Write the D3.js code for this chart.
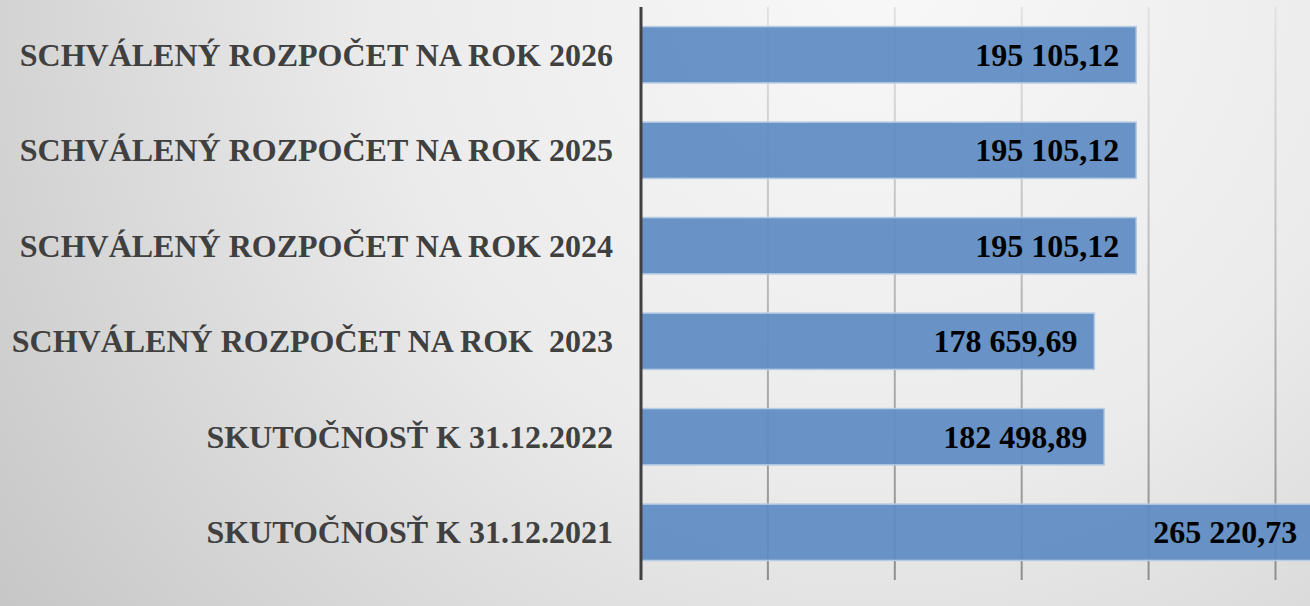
<!DOCTYPE html>
<html><head><meta charset="utf-8">
<script src="https://cdn.jsdelivr.net/npm/d3@7"></script>
<style>html,body{margin:0;padding:0;overflow:hidden;background:#ddd}</style>
</head><body>
<svg id="chart" width="1310" height="606"></svg>
<script>
const categories = [
  "SCHVÁLENÝ ROZPOČET NA ROK 2026",
  "SCHVÁLENÝ ROZPOČET NA ROK 2025",
  "SCHVÁLENÝ ROZPOČET NA ROK 2024",
  "SCHVÁLENÝ ROZPOČET NA ROK  2023",
  "SKUTOČNOSŤ K 31.12.2022",
  "SKUTOČNOSŤ K 31.12.2021"
];
const values = [195105.12, 195105.12, 195105.12, 178659.69, 182498.89, 265220.73];
const valueLabels = ["195 105,12", "195 105,12", "195 105,12", "178 659,69", "182 498,89", "265 220,73"];
const gridTicks = [50000, 100000, 150000, 200000, 250000];

const svg = d3.select("#chart");
const W = 1310, H = 606;
const defs = svg.append("defs");
const bg = defs.append("radialGradient").attr("id","bg").attr("gradientUnits","userSpaceOnUse")
  .attr("cx",880).attr("cy",-20).attr("r",1120);
bg.append("stop").attr("offset","0").attr("stop-color","#f8f8f8");
bg.append("stop").attr("offset","0.45").attr("stop-color","#ebebeb");
bg.append("stop").attr("offset","1").attr("stop-color","#c4c4c4");
const gg = defs.append("linearGradient").attr("id","grid").attr("gradientUnits","userSpaceOnUse")
  .attr("x1",0).attr("y1",7).attr("x2",0).attr("y2",580);
gg.append("stop").attr("offset","0").attr("stop-color","#e2e2e2");
gg.append("stop").attr("offset","1").attr("stop-color","#8e8e8e");

svg.append("rect").attr("width",W).attr("height",H).attr("fill","url(#bg)");

const x = d3.scaleLinear().domain([0, 300000]).range([641, 641 + 126.9*6]);
const y = d3.scaleBand().domain(categories).range([7, 580]).paddingInner(0.41).paddingOuter(0.205);

svg.append("g").selectAll("line").data(gridTicks).join("line")
  .attr("x1", d => x(d)).attr("x2", d => x(d))
  .attr("y1", 7).attr("y2", 580)
  .attr("stroke","url(#grid)").attr("stroke-width",2);

svg.append("g").selectAll("rect").data(values).join("rect")
  .attr("x", x(0)).attr("y", (d,i) => y(categories[i]))
  .attr("width", d => x(d) - x(0)).attr("height", y.bandwidth())
  .attr("fill","#5f8cc3").attr("fill-opacity",0.93)
  .attr("stroke","#b6cbe4").attr("stroke-width",1.5);

svg.append("g").selectAll("text").data(valueLabels).join("text")
  .attr("x", (d,i) => x(values[i]) - 17)
  .attr("y", (d,i) => y(categories[i]) + y.bandwidth()/2)
  .attr("dy","0.35em").attr("text-anchor","end")
  .attr("font-family","'Liberation Serif','Times New Roman',serif")
  .attr("font-weight","bold").attr("font-size",32).attr("fill","#000")
  .text(d => d);

const yAxis = svg.append("g").attr("transform", `translate(${x(0)},0)`)
  .call(d3.axisLeft(y).tickSize(0).tickPadding(28));
yAxis.select(".domain").remove();
yAxis.selectAll("text")
  .attr("font-family","'Liberation Serif','Times New Roman',serif")
  .attr("font-weight","bold").attr("font-size",32).attr("fill","#404040")
  .style("white-space","pre").attr("dy","0.35em");

svg.append("line").attr("x1",x(0)).attr("x2",x(0)).attr("y1",7).attr("y2",580)
  .attr("stroke","#404040").attr("stroke-width",3);
</script>
</body></html>
